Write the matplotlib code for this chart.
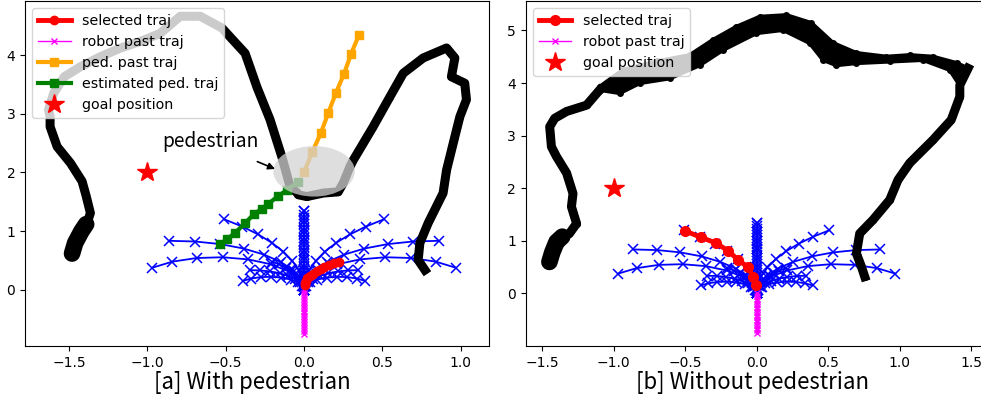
import numpy as np
import matplotlib
matplotlib.use("Agg")
import matplotlib.pyplot as plt
from matplotlib.patches import Ellipse

# candidate trajectories (same set in both panels), list of (x, y)
cand_trajs = [
    # long arcs, left side
    [(0, 0), (-0.008, 0.167), (-0.033, 0.333), (-0.075, 0.495), (-0.132, 0.652),
     (-0.205, 0.803), (-0.293, 0.946), (-0.394, 1.079), (-0.508, 1.202)],
    [(0, 0), (-0.017, 0.166), (-0.066, 0.326), (-0.146, 0.473), (-0.254, 0.601),
     (-0.385, 0.705), (-0.534, 0.781), (-0.695, 0.825), (-0.862, 0.837)],
    [(0, 0), (-0.025, 0.165), (-0.098, 0.315), (-0.211, 0.437), (-0.356, 0.520),
     (-0.519, 0.557), (-0.685, 0.544), (-0.840, 0.482), (-0.970, 0.377)],
    # long arcs, right side
    [(0, 0), (0.008, 0.167), (0.033, 0.333), (0.075, 0.495), (0.132, 0.652),
     (0.205, 0.803), (0.293, 0.946), (0.394, 1.079), (0.508, 1.202)],
    [(0, 0), (0.017, 0.166), (0.066, 0.326), (0.146, 0.473), (0.254, 0.601),
     (0.385, 0.705), (0.534, 0.781), (0.695, 0.825), (0.862, 0.837)],
    [(0, 0), (0.025, 0.165), (0.098, 0.315), (0.211, 0.437), (0.356, 0.520),
     (0.519, 0.557), (0.685, 0.544), (0.840, 0.482), (0.970, 0.377)],
    # straight ahead
    [(0, 0), (0, 0.168), (0, 0.335), (0, 0.503), (0, 0.670), (0, 0.838),
     (0, 1.005), (0, 1.173), (0, 1.340)],
    [(0, 0), (0, 0.056), (0, 0.112), (0, 0.168), (0, 0.223), (0, 0.279), (0, 0.335),
     (0, 0.391), (0, 0.447), (0, 0.503), (0, 0.558), (0, 0.614), (0, 0.670),
     (0, 0.726), (0, 0.782), (0, 0.838), (0, 0.893), (0, 0.949), (0, 1.005),
     (0, 1.061), (0, 1.117), (0, 1.173), (0, 1.228), (0, 1.284), (0, 1.340)],
    # short arcs
    [(0, 0), (-0.003, 0.067), (-0.014, 0.134), (-0.030, 0.200), (-0.053, 0.263),
     (-0.083, 0.324), (-0.118, 0.381), (-0.159, 0.435), (-0.205, 0.484)],
    [(0, 0), (-0.007, 0.067), (-0.027, 0.131), (-0.059, 0.191), (-0.102, 0.242),
     (-0.155, 0.284), (-0.215, 0.315), (-0.280, 0.333), (-0.347, 0.337)],
    [(0, 0), (-0.010, 0.067), (-0.039, 0.127), (-0.085, 0.176), (-0.144, 0.210),
     (-0.209, 0.224), (-0.276, 0.219), (-0.339, 0.194), (-0.391, 0.152)],
    [(0, 0), (0.003, 0.067), (0.014, 0.134), (0.030, 0.200), (0.053, 0.263),
     (0.083, 0.324), (0.118, 0.381), (0.159, 0.435), (0.205, 0.484)],
    [(0, 0), (0.007, 0.067), (0.027, 0.131), (0.059, 0.191), (0.102, 0.242),
     (0.155, 0.284), (0.215, 0.315), (0.280, 0.333), (0.347, 0.337)],
    [(0, 0), (0.010, 0.067), (0.039, 0.127), (0.085, 0.176), (0.144, 0.210),
     (0.209, 0.224), (0.276, 0.219), (0.339, 0.194), (0.391, 0.152)],
]

# robot past trajectory
past_x = [0] * 16
past_y = [0.0, -0.05, -0.10, -0.15, -0.20, -0.25, -0.30, -0.35, -0.40, -0.45,
          -0.50, -0.55, -0.60, -0.65, -0.70, -0.75]

goal = (-1.0, 2.0)

# [a] with pedestrian
sel_a_x = [0.006, 0.008, 0.012, 0.022, 0.037, 0.057, 0.080, 0.105, 0.130, 0.160, 0.190, 0.220]
sel_a_y = [0.085, 0.12, 0.16, 0.20, 0.24, 0.28, 0.32, 0.36, 0.39, 0.43, 0.455, 0.48]

ped_past_x = [0.0, 0.053, 0.107, 0.154, 0.204, 0.255, 0.30, 0.35]
ped_past_y = [2.01, 2.35, 2.67, 3.01, 3.36, 3.68, 4.02, 4.34]

ped_est_x = [-0.036, -0.11, -0.164, -0.227, -0.27, -0.32, -0.376, -0.44, -0.49, -0.535]
ped_est_y = [1.845, 1.70, 1.60, 1.47, 1.38, 1.29, 1.14, 0.97, 0.87, 0.78]

wall_a_x = [-1.48, -1.47, -1.42, -1.384, -1.363, -1.39, -1.416, -1.49, -1.575, -1.62,
            -1.62, -1.63, -1.597, -1.53, -1.427, -1.30, -1.17, -1.045, -0.917, -0.79,
            -0.662, -0.524, -0.376, -0.30, -0.217, -0.142, -0.089, -0.047, -0.036, 0.017,
            0.123, 0.218, 0.25, 0.293, 0.314, 0.441, 0.548, 0.633, 0.76, 0.909,
            0.962, 0.94, 1.025, 1.036, 0.994, 0.962, 0.909, 0.887, 0.792, 0.739,
            0.728, 0.771]
wall_a_y = [0.60, 0.80, 1.0, 1.14, 1.31, 1.6, 1.85, 2.16, 2.44, 2.78,
            2.95, 3.07, 3.35, 3.63, 3.80, 3.97, 4.12, 4.23, 4.37, 4.66,
            4.66, 4.46, 4.03, 3.45, 2.90, 2.27, 1.76, 1.66, 1.62, 1.59,
            1.65, 1.67, 1.82, 2.10, 2.21, 2.78, 3.29, 3.69, 3.95, 4.12,
            3.95, 3.63, 3.52, 3.24, 2.95, 2.61, 2.04, 1.65, 1.14, 0.80,
            0.51, 0.34]
blob_a_x = [-1.48, -1.46, -1.42, -1.39]
blob_a_y = [0.62, 0.80, 1.00, 1.12]

# [b] without pedestrian
sel_b_x = [-0.002, -0.026, -0.061, -0.131, -0.20, -0.282, -0.392, -0.503]
sel_b_y = [0.16, 0.32, 0.50, 0.64, 0.81, 0.955, 1.07, 1.19]

wall_b_left_x = [-1.448, -1.42, -1.40, -1.31, -1.26, -1.296, -1.285, -1.33, -1.40,
                 -1.436, -1.448, -1.413, -1.33, -1.19, -1.098]
wall_b_left_y = [0.57, 0.80, 1.02, 1.14, 1.33, 1.65, 1.90, 2.29, 2.60,
                 2.79, 3.17, 3.33, 3.46, 3.58, 3.87]
wall_b_out_x = [-1.098, -0.935, -0.70, -0.469, -0.306, -0.142, 0.021, 0.208, 0.382,
                0.534, 0.697, 0.907, 1.07, 1.233, 1.397, 1.478]
wall_b_out_y = [3.93, 4.25, 4.41, 4.53, 4.82, 5.07, 5.26, 5.29, 5.14,
                4.76, 4.57, 4.50, 4.53, 4.50, 4.38, 4.28]
wall_b_in_x = [-1.098, -0.958, -0.818, -0.608, -0.399, -0.236, -0.002, 0.184, 0.371,
               0.464, 0.557, 0.697, 0.93, 1.163, 1.35, 1.42]
wall_b_in_y = [3.87, 3.81, 4.00, 4.09, 4.34, 4.63, 4.95, 5.01, 4.76,
               4.44, 4.34, 4.38, 4.41, 4.44, 4.25, 3.96]
wall_b_right_x = [1.478, 1.42, 1.42, 1.36, 1.233, 1.07, 0.988, 0.93, 0.813, 0.72,
                  0.697, 0.732, 0.755]
wall_b_right_y = [4.28, 3.96, 3.74, 3.30, 2.92, 2.48, 2.16, 1.78, 1.40, 1.14,
                  0.76, 0.51, 0.32]
blob_b_x = [-1.45, -1.43, -1.40, -1.36]
blob_b_y = [0.60, 0.78, 0.98, 1.08]

TICK_FS = 10
LEG_FS = 10.25
CJK = ['Noto Sans CJK JP', 'DejaVu Sans']


def draw_common(ax, sel_x, sel_y, sel_ms):
    for tr in cand_trajs:
        xs = [p[0] for p in tr]
        ys = [p[1] for p in tr]
        ax.plot(xs, ys, color='blue', lw=1.3, marker='x', ms=6.5, mew=1.1, zorder=2)
    h_past, = ax.plot(past_x, past_y, color='magenta', lw=1.0, marker='x', ms=5,
                      zorder=3, label='robot past traj')
    h_sel, = ax.plot(sel_x, sel_y, color='red', lw=3.5, marker='o', ms=sel_ms,
                     zorder=4, label='selected traj')
    h_goal, = ax.plot(goal[0], goal[1], ls='none', marker='*', color='red', ms=15,
                      zorder=4, label='goal position')
    ax.tick_params(labelsize=TICK_FS)
    return h_sel, h_past, h_goal


fig = plt.figure(figsize=(9.81, 3.97), dpi=100)
ax1 = fig.add_axes([0.0255, 0.1285, 0.473, 0.869])
ax2 = fig.add_axes([0.536, 0.1285, 0.473, 0.869])

# ---- panel a
h_sel, h_past, h_goal = draw_common(ax1, sel_a_x, sel_a_y, 6)
ax1.plot(wall_a_x, wall_a_y, color='black', lw=6.5, marker='o', ms=4, zorder=3,
         solid_joinstyle='round')
ax1.plot(blob_a_x, blob_a_y, color='black', lw=12, solid_capstyle='round', zorder=3)
h_ped, = ax1.plot(ped_past_x, ped_past_y, color='orange', lw=3, marker='s', ms=5.5,
                  zorder=3, label='ped. past traj')
h_est, = ax1.plot(ped_est_x, ped_est_y, color='green', lw=3, marker='s', ms=5.5,
                  zorder=3, label='estimated ped. traj')
ax1.add_patch(Ellipse((0.064, 2.02), 0.52, 0.86, facecolor='lightgray',
                      edgecolor='none', alpha=0.75, zorder=5))
ax1.annotate('pedestrian', xy=(-0.185, 2.06), xytext=(-0.6, 2.52),
             ha='center', va='center', fontsize=13.8, family=CJK,
             arrowprops=dict(arrowstyle='-|>', color='black', lw=1.2,
                             shrinkA=12, shrinkB=0, mutation_scale=10),
             zorder=6)
ax1.set_xlim(-1.78, 1.18)
ax1.set_ylim(-0.954, 4.92)
ax1.set_xticks([-1.5, -1.0, -0.5, 0.0, 0.5, 1.0])
ax1.set_yticks([0, 1, 2, 3, 4])
leg = ax1.legend(handles=[h_sel, h_past, h_ped, h_est, h_goal], loc='upper left',
                 fontsize=LEG_FS, handlelength=2.3)
leg.set_zorder(10)

# ---- panel b
h_sel, h_past, h_goal = draw_common(ax2, sel_b_x, sel_b_y, 7)
ax2.plot(wall_b_left_x, wall_b_left_y, color='black', lw=6.5, marker='o', ms=4, zorder=3,
         solid_joinstyle='round')
ax2.plot(wall_b_right_x, wall_b_right_y, color='black', lw=6.5, marker='o', ms=4, zorder=3,
         solid_joinstyle='round')
ax2.fill(wall_b_out_x + wall_b_in_x[::-1], wall_b_out_y + wall_b_in_y[::-1],
         color='black', zorder=3)
ax2.plot(wall_b_out_x, wall_b_out_y, color='black', lw=3, marker='o', ms=4, zorder=3)
ax2.plot(wall_b_in_x, wall_b_in_y, color='black', lw=3, marker='o', ms=4, zorder=3)
ax2.plot(blob_b_x, blob_b_y, color='black', lw=12, solid_capstyle='round', zorder=3)
ax2.set_xlim(-1.615, 1.63)
ax2.set_ylim(-0.998, 5.56)
ax2.set_xticks([-1.5, -1.0, -0.5, 0.0, 0.5, 1.0, 1.5])
ax2.set_yticks([0, 1, 2, 3, 4, 5])
leg = ax2.legend(handles=[h_sel, h_past, h_goal], loc='upper left',
                 fontsize=LEG_FS, handlelength=2.3)
leg.set_zorder(10)

fig.text(252 / 981, 1 - 383 / 397, '[a] With pedestrian', ha='center', va='center',
         fontsize=16, family=CJK)
fig.text(752 / 981, 1 - 383 / 397, '[b] Without pedestrian', ha='center', va='center',
         fontsize=16, family=CJK)

fig.savefig('out.png', dpi=100)
